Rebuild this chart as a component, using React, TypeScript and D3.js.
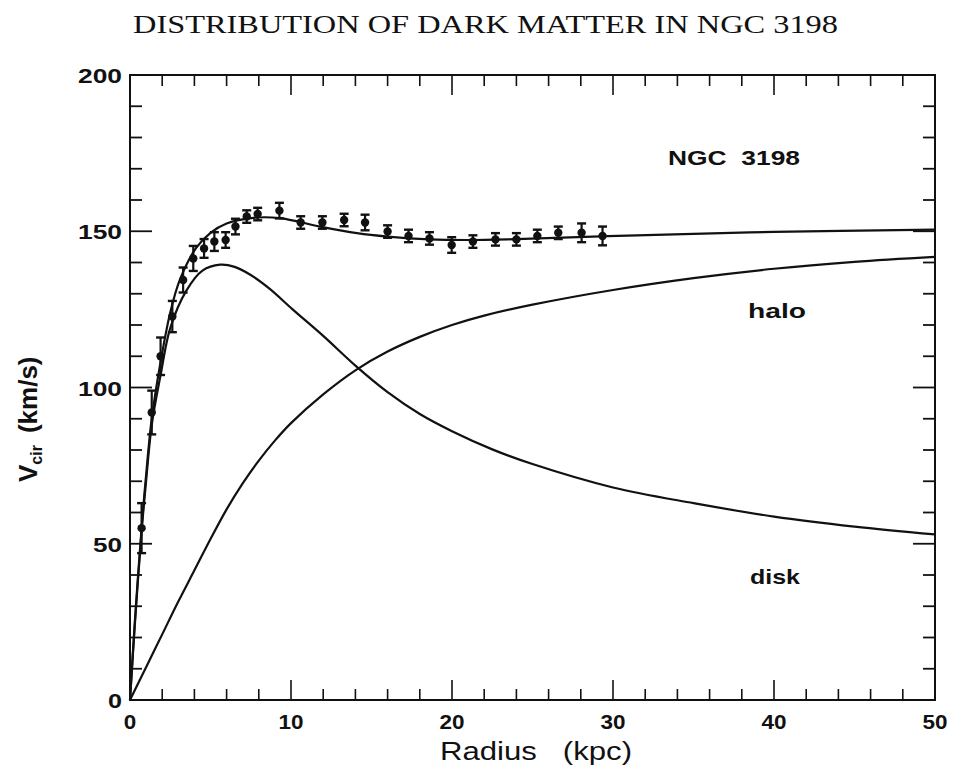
import React from "react";
import * as d3 from "d3";

// ---- data ----
const obsRadius = [0.72, 1.35, 1.9, 2.63, 3.3, 3.93, 4.6, 5.24, 5.94, 6.55, 7.25, 7.93, 9.28, 10.6, 11.95, 13.3, 14.6, 16.0, 17.3, 18.6, 19.98, 21.3, 22.7, 24.0, 25.3, 26.6, 28.05, 29.35];
const obsVelocity = [55, 92, 110, 122.7, 134.4, 141.3, 144.5, 146.7, 147.2, 151.5, 154.7, 155.5, 156.6, 152.8, 152.8, 153.6, 152.8, 149.9, 148.5, 147.7, 145.6, 146.7, 147.4, 147.4, 148.5, 149.5, 149.5, 148.5];
const obsError = [8, 7, 6, 5, 4, 4, 3, 3, 2.5, 2.5, 2, 2, 2.5, 2, 2, 2, 2.5, 2, 2, 2, 2.5, 2, 2, 2, 2, 2, 3, 3];

const totalR = [0, 0.3, 0.72, 1.0, 1.35, 1.86, 2.5, 3.1, 4.1, 5, 6, 7.66, 9.3, 11.8, 14.1, 16, 18.6, 21, 24, 30.9, 40, 50];
const totalV = [0, 25, 55, 72, 90, 107, 124, 134.5, 144.6, 149.5, 152.5, 154.3, 154.2, 151.5, 149.4, 148.3, 147.4, 147.2, 147.5, 148.6, 149.8, 150.5];

const diskR = [0, 0.3, 0.72, 1.0, 1.35, 1.9, 2.5, 3.5, 4.5, 5.6, 6.5, 7.5, 8.7, 10.1, 12, 14, 16, 18, 20, 22.5, 25, 30, 35, 40, 45, 50];
const diskV = [0, 24, 54, 70, 88, 104, 119, 131, 137.4, 139.3, 138.6, 136, 131.5, 125, 116.5, 107, 98.5, 91.5, 86, 80.2, 75.5, 68, 63, 58.7, 55.5, 53];

const haloR = [0, 1, 2, 3, 4, 5, 6, 7, 8, 9, 10, 12, 14, 16, 18, 20, 22, 25, 30, 35, 40, 45, 50];
const haloV = [0, 10.5, 21, 31.5, 41.5, 51.5, 61, 69.3, 76.6, 83, 88.6, 97.8, 105.5, 111.5, 116.2, 120, 123, 126.5, 131.2, 135, 138, 140.2, 141.8];

const xTickLabels = [0, 10, 20, 30, 40, 50];
const yTickLabels = [0, 50, 100, 150, 200];
const xMinorStep = 2;
const yMinorStep = 10;

const title = "DISTRIBUTION OF DARK MATTER IN NGC 3198";

const W = 953;
const H = 774;
const L = 130, R = 935, T = 75, B = 700;

export default function App() {
  const x = d3.scaleLinear().domain([0, 50]).range([L, R]);
  const y = d3.scaleLinear().domain([0, 200]).range([B, T]);

  const line = d3
    .line<[number, number]>()
    .x((d) => x(d[0]))
    .y((d) => y(d[1]))
    .curve(d3.curveCatmullRom.alpha(0.5));

  const total = line(totalR.map((r, i) => [r, totalV[i]]) as [number, number][]) || "";
  const disk = line(diskR.map((r, i) => [r, diskV[i]]) as [number, number][]) || "";
  const halo = line(haloR.map((r, i) => [r, haloV[i]]) as [number, number][]) || "";

  const xMinor = d3.range(0, 50.001, xMinorStep);
  const yMinor = d3.range(0, 200.001, yMinorStep);

  const isXMajor = (v: number) => xTickLabels.includes(v);
  const isYMajor = (v: number) => yTickLabels.includes(v);

  const tickFont = "'Liberation Sans', Arial, sans-serif";
  const digitW = 14;

  return (
    <svg width={W} height={H} style={{ position: "absolute", left: 0, top: 0, background: "#fff" }}>
      <rect x={0} y={0} width={W} height={H} fill="#fff" />
      <text
        x={133}
        y={33}
        fontFamily="'Liberation Serif', 'Times New Roman', serif"
        fontSize={26}
        textLength={705}
        lengthAdjust="spacingAndGlyphs"
        fill="#111"
        xmlSpace="preserve"
      >
        {title}
      </text>

      {/* frame */}
      <rect x={L} y={T} width={R - L} height={B - T} fill="none" stroke="#111" strokeWidth={2} />

      {/* x ticks bottom & top */}
      {xMinor.map((v) => {
        const len = isXMajor(v) ? 20 : 11;
        const px = x(v);
        return (
          <g key={"xt" + v}>
            <line x1={px} x2={px} y1={B} y2={B - len} stroke="#111" strokeWidth={1.6} />
            <line x1={px} x2={px} y1={T} y2={T + len} stroke="#111" strokeWidth={1.6} />
          </g>
        );
      })}
      {/* y ticks left & right */}
      {yMinor.map((v) => {
        const len = isYMajor(v) ? 22 : 12;
        const py = y(v);
        return (
          <g key={"yt" + v}>
            <line x1={L} x2={L + len} y1={py} y2={py} stroke="#111" strokeWidth={1.8} />
            <line x1={R} x2={R - len} y1={py} y2={py} stroke="#111" strokeWidth={1.8} />
          </g>
        );
      })}

      {/* tick labels */}
      {xTickLabels.map((v) => {
        const s = String(v);
        return (
          <text
            key={"xl" + v}
            x={x(v)}
            y={729}
            textAnchor="middle"
            fontFamily={tickFont}
            fontWeight="bold"
            fontSize={21}
            textLength={s.length * 12.5}
            lengthAdjust="spacingAndGlyphs"
            fill="#111"
          >
            {s}
          </text>
        );
      })}
      {yTickLabels.map((v) => {
        const s = String(v);
        const w = s.length * digitW + (s.length - 1) * 1;
        return (
          <text
            key={"yl" + v}
            x={122 - w}
            y={y(v) + 8}
            fontFamily={tickFont}
            fontWeight="bold"
            fontSize={21}
            textLength={w}
            lengthAdjust="spacingAndGlyphs"
            fill="#111"
          >
            {s}
          </text>
        );
      })}

      {/* axis titles */}
      <text
        x={440}
        y={760}
        fontFamily={tickFont}
        fontSize={25}
        textLength={192}
        lengthAdjust="spacingAndGlyphs"
        fill="#111"
        xmlSpace="preserve"
      >
        {"Radius   (kpc)"}
      </text>
      <g transform="translate(37,482) rotate(-90)">
        <text x={0} y={0} fontFamily={tickFont} fontWeight="bold" fontSize={26} fill="#111" xmlSpace="preserve">
          <tspan>V</tspan>
          <tspan fontSize={16} dy={5}>cir</tspan>
          <tspan dy={-5} dx={12}>(km/s)</tspan>
        </text>
      </g>

      {/* curves */}
      <path d={total} fill="none" stroke="#111" strokeWidth={2.2} />
      <path d={disk} fill="none" stroke="#111" strokeWidth={2.2} />
      <path d={halo} fill="none" stroke="#111" strokeWidth={2.2} />

      {/* observed points */}
      {obsRadius.map((r, i) => {
        const px = x(r);
        const py = y(obsVelocity[i]);
        const yt = y(obsVelocity[i] + obsError[i]);
        const yb = y(obsVelocity[i] - obsError[i]);
        return (
          <g key={"p" + i}>
            <line x1={px} x2={px} y1={yt} y2={yb} stroke="#111" strokeWidth={2.2} />
            <line x1={px - 4.5} x2={px + 4.5} y1={yt} y2={yt} stroke="#111" strokeWidth={2.4} />
            <line x1={px - 4.5} x2={px + 4.5} y1={yb} y2={yb} stroke="#111" strokeWidth={2.4} />
            <circle cx={px} cy={py} r={4.2} fill="#111" />
          </g>
        );
      })}

      {/* labels */}
      <text x={668} y={165} fontFamily={tickFont} fontWeight="bold" fontSize={20} fill="#111" textLength={132} lengthAdjust="spacingAndGlyphs" xmlSpace="preserve">
        {"NGC  3198"}
      </text>
      <text x={748} y={318} fontFamily={tickFont} fontWeight="bold" fontSize={21} fill="#111" textLength={58} lengthAdjust="spacingAndGlyphs">
        halo
      </text>
      <text x={750} y={584} fontFamily={tickFont} fontWeight="bold" fontSize={21} fill="#111" textLength={50} lengthAdjust="spacingAndGlyphs">
        disk
      </text>
    </svg>
  );
}
